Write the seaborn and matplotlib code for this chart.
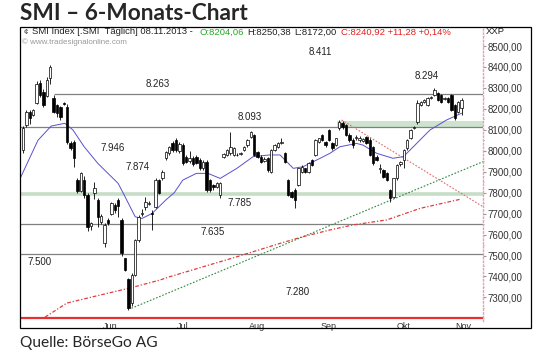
import matplotlib
matplotlib.use("Agg")
import matplotlib.pyplot as plt
import matplotlib.ticker as mticker
from matplotlib.patches import Rectangle
import numpy as np
import seaborn as sns

# Tageskerzen SMI, Mai - 08.11.2013 (Index 0 = erster Handelstag im Chart)
opens = [8003, 8122, 8186, 8170, 8230, 8322, 8282, 8260, 8345, 8250,
         8218, 8210, 8226, 8210, 8035, 8043, 7860, 7810, 7860, 7789,
         7640, 7800, 7765, 7660, 7560, 7670, 7700, 7740, 7765, 7670,
         7486, 7390, 7272, 7407, 7573, 7698, 7733, 7745, 7705, 7733,
         7860, 7870, 7964, 7988, 8035, 8051, 8000, 8027, 7972, 7950,
         7965, 7972, 7956, 7916, 7948, 7860, 7836, 7829, 7790, 7972,
         7980, 7988, 7980, 7982, 7986, 8003, 8027, 8067, 8075, 7996,
         7972, 7950, 7964, 7900, 8003, 8020, 8035, 7988, 7860, 7805,
         7813, 7836, 7900, 7916, 7900, 7956, 7980, 8043, 8075, 8043,
         8099, 8035, 8027, 8107, 8131, 8123, 8075, 8051, 8059, 8051,
         8045, 8067, 8051, 8019, 7972, 7912, 7908, 7892, 7813, 7781,
         7868, 7935, 7956, 8011, 8059, 8107, 8138, 8218, 8234, 8218,
         8250, 8266, 8274, 8266, 8248, 8250, 8266, 8218, 8186, 8204.06]
highs = [8120, 8195, 8195, 8200, 8335, 8340, 8295, 8350, 8411, 8265,
         8225, 8215, 8232, 8225, 8045, 8050, 7870, 7900, 7880, 7800,
         7660, 7852, 7775, 7700, 7655, 7680, 7755, 7750, 7775, 7680,
         7490, 7395, 7415, 7580, 7695, 7720, 7780, 7760, 7715, 7870,
         7865, 7910, 8000, 8025, 8045, 8060, 8040, 8035, 7980, 8000,
         7975, 7980, 7965, 7955, 7955, 7865, 7842, 7850, 7852, 7990,
         8010, 8091, 8020, 7990, 7995, 8025, 8055, 8095, 8080, 8000,
         7978, 7970, 7970, 8008, 8030, 8040, 8060, 7995, 7865, 7810,
         7820, 7920, 7930, 7920, 7945, 7960, 8055, 8062, 8080, 8048,
         8105, 8040, 8062, 8145, 8140, 8130, 8085, 8060, 8075, 8070,
         8060, 8072, 8060, 8025, 7978, 7935, 7912, 7898, 7818, 7872,
         7936, 7950, 8008, 8055, 8102, 8120, 8240, 8238, 8246, 8255,
         8262, 8298, 8280, 8270, 8256, 8256, 8272, 8224, 8238, 8250.38]
lows = [7990, 8115, 8130, 8165, 8225, 8255, 8210, 8255, 8320, 8180,
        8160, 8145, 8218, 8030, 8005, 7924, 7800, 7805, 7775, 7615,
        7620, 7770, 7638, 7650, 7540, 7645, 7695, 7705, 7685, 7500,
        7425, 7240, 7260, 7400, 7565, 7690, 7715, 7740, 7620, 7725,
        7795, 7860, 7955, 7980, 7995, 7995, 7990, 7930, 7940, 7940,
        7925, 7935, 7910, 7910, 7805, 7805, 7815, 7820, 7775, 7965,
        7975, 7980, 7975, 7975, 7980, 7998, 8020, 8060, 7975, 7965,
        7940, 7945, 7900, 7895, 7998, 8015, 8030, 7940, 7785, 7775,
        7725, 7830, 7895, 7895, 7895, 7925, 7975, 8038, 8045, 8020,
        8045, 8005, 8022, 8100, 8105, 8070, 8040, 8015, 8050, 8040,
        8040, 8030, 7975, 7930, 7950, 7895, 7870, 7855, 7757, 7775,
        7862, 7925, 7916, 8005, 8055, 8102, 8130, 8212, 8228, 8212,
        8245, 8260, 8238, 8228, 8244, 8228, 8188, 8145, 8180, 8172.00]
closes = [8107, 8186, 8155, 8194, 8320, 8266, 8218, 8340, 8401, 8186,
          8178, 8162, 8222, 8043, 8012, 7964, 7810, 7892, 7790, 7638,
          7655, 7820, 7685, 7690, 7645, 7655, 7750, 7715, 7735, 7510,
          7430, 7248, 7407, 7573, 7685, 7702, 7756, 7752, 7700, 7860,
          7797, 7900, 7996, 8020, 8003, 8004, 8030, 7940, 7948, 7965,
          7935, 7940, 7916, 7948, 7813, 7813, 7825, 7845, 7844, 7985,
          8003, 8020, 8012, 7980, 7990, 8020, 8051, 8091, 7980, 7972,
          7948, 7962, 7908, 8003, 8027, 8035, 8040, 7948, 7790, 7780,
          7765, 7916, 7924, 7900, 7940, 7932, 8051, 8059, 8051, 8027,
          8051, 8011, 8059, 8139, 8115, 8075, 8051, 8027, 8067, 8059,
          8055, 8035, 7980, 7940, 7956, 7920, 7876, 7860, 7773, 7868,
          7932, 7945, 8004, 8051, 8099, 8115, 8226, 8234, 8242, 8250,
          8258, 8290, 8242, 8234, 8250, 8234, 8194, 8155, 8234, 8240.92]

# gleitender Durchschnitt (blau)
ma_idx = [-1.5, 4.4, 8.3, 12.3, 14.7, 18, 22, 26, 28, 30, 33, 35, 38, 42, 44.5,
          47, 51, 54.4, 58, 62.9, 67.7, 72.6, 75.6, 79.5, 82.4, 87.4, 90.3,
          93.2, 98.1, 100, 104, 108.8, 111.9, 114.8, 119.7, 124.6, 129]
ma_val = [7845, 8050, 8118, 8131, 8099, 8019, 7940, 7876, 7844, 7781, 7685, 7677,
          7701, 7765, 7800, 7860, 7892, 7892, 7868, 7916, 7972, 7980, 7980, 7916,
          7924, 7964, 7988, 8019, 8035, 8027, 7988, 7964, 7972, 8019, 8099, 8147, 8179]

# langfristiger Durchschnitt (rot gepunktet)
ma200_idx = [6.5, 12.9, 22.6, 31.5, 40.3, 43.2, 62.9, 75.6, 82.4, 90.3, 97.1, 107, 116.8, 128.5]
ma200_val = [7206, 7273, 7311, 7345, 7383, 7399, 7494, 7558, 7590, 7622, 7646, 7670, 7725, 7768]

# Trendlinien
trend_up_idx = [31.9, 135.3]
trend_up_val = [7248, 7948]
trend_down_idx = [93.7, 135.3]
trend_down_val = [8147, 7733]

# Horizontale Marken
gray_levels = [8270, 8112, 7650, 7505]
gray_starts = [9, -1, -1, -1]
green_level = 7795
green_zone = (92.4, 8112, 8142)
red_floor = 7202

level_labels = ["8.411", "8.294", "8.263", "8.093", "7.946", "7.874",
                "7.785", "7.635", "7.500", "7.280"]
label_idx = [87.4, 118.8, 39.7, 66.8, 26.5, 33.8, 63.8, 55.9, 5.0, 80.9]
label_val = [8471, 8357, 8319, 8161, 8013, 7922, 7751, 7612, 7469, 7326]

months = ["Jun", "Jul", "Aug", "Sep", "Okt", "Nov"]
month_starts = [15.5, 35.5, 58.5, 79.5, 100.5, 123.5]

sns.set_style("white")
plt.rcParams['font.family'] = ['Liberation Sans', 'DejaVu Sans']

fig = plt.figure(figsize=(5.4, 3.56), dpi=100)
ax = fig.add_axes([20 / 540, 35 / 356, 463 / 540, 294 / 356])
x_end = 135.3
ax.set_xlim(-0.88, x_end)
ax.set_ylim(7187.4, 8590.7)

# Marken-Linien
ax.hlines(red_floor, -0.88, x_end, color='#e83030', lw=1.6, zorder=2)
ax.hlines(green_level, -0.88, x_end, color='#c6dec6', lw=2.6, zorder=1)
ax.add_patch(Rectangle((green_zone[0], green_zone[1]), x_end - green_zone[0],
                       green_zone[2] - green_zone[1], color='#cde3cd', lw=0, zorder=1))
for lv, st in zip(gray_levels, gray_starts):
    ax.hlines(lv, st, x_end, color='#808080', lw=0.9, zorder=1)

# Trendlinien und Durchschnitte
sns.lineplot(x=trend_up_idx, y=trend_up_val, ax=ax, color='#2f8a3f', lw=0.8,
             linestyle=(0, (1.5, 1.5)), zorder=2)
sns.lineplot(x=trend_down_idx, y=trend_down_val, ax=ax, color='#e06a6a', lw=0.8,
             linestyle=(0, (1.5, 1.5)), zorder=2)
sns.lineplot(x=ma200_idx, y=ma200_val, ax=ax, color='#e03c3c', lw=0.9,
             linestyle=(0, (3, 1.5, 1, 1.5)), zorder=2)
sns.lineplot(x=ma_idx, y=ma_val, ax=ax, color='#5a50d0', lw=0.7, zorder=2)

# Kerzen
o = np.array(opens); h = np.array(highs); l = np.array(lows); c = np.array(closes)
idx = np.arange(len(c))
up = c >= o
ax.vlines(idx, l, h, color='black', lw=0.6, zorder=3)
ax.bar(idx, np.abs(c - o), bottom=np.minimum(o, c), width=0.72,
       color=np.where(up, 'white', 'black'), edgecolor='black', lw=0.5, zorder=4)

for t, xi, yv in zip(level_labels, label_idx, label_val):
    ax.text(xi, yv, t, ha='center', va='center', fontsize=7, color='#222222')

# Achsen
for s in ['top', 'left', 'bottom']:
    ax.spines[s].set_visible(False)
ax.spines['right'].set_color('#e8a0b0')
ax.spines['right'].set_linestyle(':')
ax.spines['right'].set_linewidth(1)
ax.yaxis.tick_right()
ax.set_yticks(np.arange(7300, 8501, 100))
ax.yaxis.set_minor_locator(mticker.MultipleLocator(50))
ax.yaxis.set_major_formatter(mticker.FuncFormatter(lambda v, p: f"{v:.2f}".replace('.', ',')))
ax.tick_params(axis='y', which='major', length=2, color='#999999', labelsize=7,
               labelcolor='#333333', pad=1)
ax.tick_params(axis='y', which='minor', length=1, color='#999999')

ax.set_xticks(month_starts)
ax.set_xticklabels([])
centers = [(a + b) / 2 for a, b in zip(month_starts, month_starts[1:] + [x_end])]
ax.set_xticks(centers, minor=True)
ax.set_xticklabels(months, minor=True)
ax.tick_params(axis='x', which='major', length=2, direction='in', color='black')
ax.tick_params(axis='x', which='minor', length=0, labelsize=6.5, labelcolor='#333333', pad=0.5)

# Rahmen
fig.add_artist(Rectangle((20 / 540, 28 / 356), 511 / 540, 301 / 356, transform=fig.transFigure,
                         fill=False, ec='black', lw=0.9))

# Kopfzeile
hy = 1 - 32 / 356
fs = 6.8
fig.text(23 / 540, hy, "¢", fontsize=6, color='#333333', va='center')
fig.text(32 / 540, hy, "SMI Index [.SMI  Täglich] 08.11.2013 -", fontsize=fs, color='#222222', va='center')
fig.text(199 / 540, hy, "O:8204,06", fontsize=fs, color='#22aa22', va='center')
fig.text(247 / 540, hy, "H:8250,38", fontsize=fs, color='#222222', va='center')
fig.text(294 / 540, hy, "L:8172,00", fontsize=fs, color='#222222', va='center')
fig.text(341 / 540, hy, "C:8240,92 +11,28 +0,14%", fontsize=fs, color='#e02020', va='center')
fig.text(486 / 540, hy, "XXP", fontsize=6.8, color='#222222', va='center')
fig.text(22 / 540, 1 - 42 / 356, "© www.tradesignalonline.com", fontsize=5.8, color='#999999', va='center')

fig.text(20 / 540, 1 - 14 / 356, "SMI – 6-Monats-Chart", fontsize=16.3, fontweight='bold',
         family='Lato', va='center')
fig.text(20 / 540, 1 - 343 / 356, "Quelle: BörseGo AG", fontsize=11.2, family='Lato', va='center')

fig.savefig("out.png", dpi=100)
